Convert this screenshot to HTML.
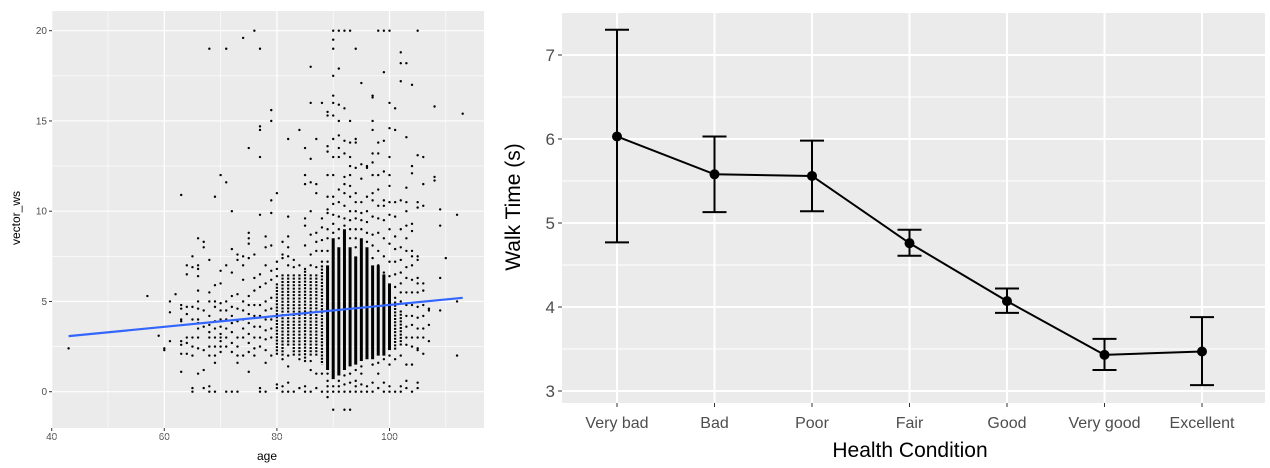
<!DOCTYPE html>
<html><head><meta charset="utf-8"><style>
body{margin:0;background:#fff;width:1270px;height:468px;overflow:hidden}
svg{display:block;font-family:"Liberation Sans",sans-serif}
</style></head><body>
<svg id="c" width="1270" height="468"></svg>
<script>
// ---------- left chart data ----------
const scatterAges=[43,57,59,60,61,62,63,64,65,66,67,68,69,70,71,72,73,74,75,76,77,78,79,80,81,82,83,84,85,86,87,88,89,90,91,92,93,94,95,96,97,98,99,100,101,102,103,104,105,106,107,108,109,110,112,113];
const scatterVals=["2.4","5.3","3.1","2.3 2.4","5.0 4.4 2.8","5.4","10.9 4.8 4.6 4.0 3.9 2.8 2.6 2.1 1.1","7.0 6.5 4.7 4.3 3.0 2.7 2.1","7.5 6.9 4.7 4.0 3.0 2.5 2.0 0.2 0.0","8.5 7.0 6.8 6.4 5.6 5.0 4.6 4.0 3.8 3.5 3.0 2.4 1.0","8.3 8.0 4.5 3.6 2.3 1.2 0.2","19.0 7.3 5.5 5.0 4.2 3.7 3.3 3.0 2.5 2.0 0.3 0.0","10.8 5.9 5.0 4.7 3.9 3.5 3.0 2.5 2.0 1.6 0.0","12.0 6.7 6.0 4.9 4.5 4.0 3.6 3.2 3.0 2.8 2.5 2.2","19.0 11.6 7.0 5.0 4.5 4.0 3.5 3.0 2.5 0.0","10.0 7.9 6.6 5.3 4.7 4.2 3.8 3.3 2.7 2.2 0.0","7.6 7.3 5.4 4.6 3.9 3.0 2.5 2.0 1.6 0.0","19.6 7.5 7.0 6.2 5.0 4.5 4.0 3.5 3.0 2.0","13.5 8.8 8.5 8.2 7.4 5.3 4.8 4.3 3.8 3.2 2.7 2.2 1.1","20.0 7.6 6.3 5.6 4.8 4.2 3.6 3.0 2.4 2.0","19.0 14.7 14.5 13.0 9.8 6.5 5.8 4.8 4.2 3.6 3.0 2.5 0.2 0.0","8.6 8.0 7.0 6.0 5.0 4.5 4.0 3.4 2.9 2.3 1.6 0.0","15.6 15.0 10.6 9.9 8.1 6.7 6.2 5.2 4.6 4.0 3.5 3.0 2.0","11.0 7.2 6.8 6.4 0.4 0.2","8.3 7.6 7.4 1.8 0.3 0.0","14.0 9.7 8.6 8.0 7.5 7.0 2.0 1.4 0.5 0.0","7.3 6.9 0.0","14.5 7.0 1.8 0.2","13.5 12.0 11.5 9.6 9.2 8.1 6.8 1.7 0.3 0.0","18.0 16.0 12.9 11.6 10.0 8.7 7.6 7.0 1.7 1.2 0.0","14.0 11.5 11.0 8.8 8.3 7.8 6.9 1.0 0.2","16.0 9.6 9.1 8.4 7.8 7.2 1.0 0.0","15.5 15.3 13.6 13.3 12.0 10.8 10.1 9.9 9.0 8.5 7.8 7.2 1.0 0.6 0.3 0.0 -0.3","20.0 19.5 19.0 17.5 16.4 16.0 15.3 14.0 13.0 12.0 10.8 10.4 9.8 9.3 8.8 0.3 0.0 -1.0","20.0 17.9 15.9 15.0 14.2 13.5 13.0 11.2 10.5 9.7 9.0 8.5 0.6 0.3 0.0","20.0 15.7 13.9 13.2 11.9 11.5 11.0 10.3 9.6 9.2 0.9 0.4 0.0 -1.0","20.0 15.0 13.8 13.0 12.5 12.0 11.4 10.8 10.0 9.5 9.0 8.5 1.0 0.5 0.0 -1.0","19.0 14.0 13.8 12.4 11.0 10.5 10.0 9.6 9.0 8.5 8.0 1.2 0.6 0.3 0.0","17.1 12.6 11.8 10.5 9.9 9.5 9.0 1.4 1.0 0.4 0.0","12.5 12.4 10.8 10.0 9.4 8.8 8.3 0.3 0.0","16.4 16.3 15.0 14.5 13.2 12.7 12.0 11.0 10.6 9.7 8.7 8.1 7.4 1.5 0.5 0.0","20.0 13.8 13.2 12.0 11.2 10.3 9.6 8.8 7.8 7.0 1.6 1.0 0.2","20.0 17.7 13.9 12.2 10.6 10.3 9.5 8.5 7.5 6.6 1.8 0.5 0.0","20.0 16.0 14.6 13.0 12.0 11.4 10.5 9.8 9.0 8.2 7.2 6.4 2.0 1.5 0.3 0.0","15.7 14.5 10.5 9.7 8.6 7.9 7.2 6.5 5.8 5.2 1.8 0.0","18.8 18.2 17.2 10.6 9.0 8.0 7.3 6.6 6.0 5.5 5.0 2.0 0.3 0.0","18.2 14.1 11.3 10.5 10.0 9.2 8.5 7.8 6.9 6.3 5.5 4.8 4.2 3.6 3.0 2.6 1.5 0.6 0.2","17.0 12.5 12.1 9.3 8.9 7.8 7.5 7.0 6.2 5.5 4.8 4.2 3.7 3.0 2.5 1.5 0.0","20.0 13.1 10.5 10.2 7.5 7.3 6.3 6.0 5.5 4.7 4.1 3.5 3.0 2.4 2.3 0.5 0.2","13.0 11.5 10.3 6.0 5.6 4.8 4.2 3.5 3.0 2.1","4.6 4.5 3.7 2.8","15.8 11.9 11.7","10.1 9.2 6.3 4.5","7.4","9.8 5.0 2.0","15.4"];
const denseAges=[80,81,82,83,84,85,86,87,88,89,90,91,92,93,94,95,96,97,98,99,100,101,102];
const denseLo=[2.0,2.0,2.5,2.0,2.0,1.8,2.0,2.0,1.5,1.2,0.7,0.9,1.2,1.4,1.5,1.7,1.8,1.8,2.0,2.0,2.3,2.3,2.5];
const denseHi=[6.0,6.5,6.5,6.5,6.5,6.7,6.5,6.5,7.0,7.0,8.5,8.0,9.0,8.0,7.5,8.5,8.0,7.0,7.0,6.5,6.0,5.0,4.5];
const fitAges=[43,113];
const fitVals=[3.08,5.2];
const leftXTicks=[40,60,80,100];
const leftYTicks=[0,5,10,15,20];
// ---------- right chart data ----------
const categories=["Very bad","Bad","Poor","Fair","Good","Very good","Excellent"];
const means=[6.03,5.58,5.56,4.76,4.07,3.43,3.47];
const lows=[4.77,5.13,5.14,4.61,3.93,3.25,3.07];
const highs=[7.30,6.03,5.98,4.92,4.22,3.62,3.88];
const rightYTicks=[3,4,5,6,7];

const NS="http://www.w3.org/2000/svg";
const svg=document.getElementById('c');
function mk(tag,attrs,parent,txt){const e=document.createElementNS(NS,tag);for(const k in attrs)e.setAttribute(k,attrs[k]);if(txt!==undefined)e.textContent=txt;(parent||svg).appendChild(e);return e;}

// ===== LEFT =====
const L={x0:52,x1:484,y0:11,y1:428};
const lx=a=>51.7+(a-40)*5.63;
const ly=v=>391.7-v*18.05;
let g=mk('g',{});


let r=mk('rect',{x:L.x0,y:L.y0,width:L.x1-L.x0,height:L.y1-L.y0,fill:'#ebebeb'},g);

for(let i=0;i<leftXTicks.length;i++){const t=leftXTicks[i];
  const mx=lx(t+10); if(mx<L.x1) mk('line',{x1:mx,x2:mx,y1:L.y0,y2:L.y1,stroke:'#fff','stroke-width':0.6},g);
  mk('line',{x1:lx(t),x2:lx(t),y1:L.y0,y2:L.y1,stroke:'#fff','stroke-width':1.2},g);
  mk('line',{x1:lx(t),x2:lx(t),y1:L.y1,y2:L.y1+3,stroke:'#333','stroke-width':1},g);
  const tx=mk('text',{x:lx(t),y:440,'font-size':10,fill:'#4d4d4d','text-anchor':'middle'},g,String(t));
  }
for(let i=0;i<leftYTicks.length;i++){const t=leftYTicks[i];
  mk('line',{x1:L.x0,x2:L.x1,y1:ly(t+2.5),y2:ly(t+2.5),stroke:'#fff','stroke-width':0.6},g);
  mk('line',{x1:L.x0,x2:L.x1,y1:ly(t),y2:ly(t),stroke:'#fff','stroke-width':1.2},g);
  mk('line',{x1:L.x0-3,x2:L.x0,y1:ly(t),y2:ly(t),stroke:'#333','stroke-width':1},g);
  const tx=mk('text',{x:L.x0-5,y:ly(t)+3.5,'font-size':10,fill:'#4d4d4d','text-anchor':'end'},g,String(t));
  }
mk('line',{x1:L.x0,x2:L.x1,y1:ly(-2.5),y2:ly(-2.5),stroke:'#fff','stroke-width':0.6},g);
for(let i=0;i<denseAges.length;i++){
  const a=denseAges[i];const solid=a>=89&&a<=100;
  const b=mk('line',{x1:lx(a),x2:lx(a),y1:ly(denseHi[i]),y2:ly(denseLo[i]),stroke:'#000','stroke-width':solid?3:2.2,'stroke-dasharray':solid?'none':'2 1.3'},g);
  }
for(let i=0;i<scatterAges.length;i++){
  scatterVals[i].split(' ').map(Number).forEach(v=>{
    const p=mk('circle',{cx:lx(scatterAges[i]),cy:ly(v),r:1.2,fill:'#000'},g);
    });}
const fl=mk('line',{x1:lx(fitAges[0]),y1:ly(fitVals[0]),x2:lx(fitAges[1]),y2:ly(fitVals[1]),stroke:'#3366FF','stroke-width':2.2},g);

let t1=mk('text',{x:267,y:460,'font-size':12,fill:'#000','text-anchor':'middle'},g,'age');

let t2=mk('text',{x:0,y:0,'font-size':12,fill:'#000','text-anchor':'middle',transform:'translate(20,218) rotate(-90)'},g,'vector_ws');


// ===== RIGHT =====
const R={x0:562,x1:1265,y0:13,y1:403};
const rx=i=>617+i*97.5;
const ry=v=>391-(v-3)*84;
let h=mk('g',{});


r=mk('rect',{x:R.x0,y:R.y0,width:R.x1-R.x0,height:R.y1-R.y0,fill:'#ebebeb'},h);

for(let i=0;i<rightYTicks.length;i++){const t=rightYTicks[i];
  if(i<rightYTicks.length-1) mk('line',{x1:R.x0,x2:R.x1,y1:ry(t+0.5),y2:ry(t+0.5),stroke:'#fff','stroke-width':1},h);
  mk('line',{x1:R.x0,x2:R.x1,y1:ry(t),y2:ry(t),stroke:'#fff','stroke-width':2},h);
  mk('line',{x1:R.x0-4,x2:R.x0,y1:ry(t),y2:ry(t),stroke:'#333','stroke-width':1},h);
  const tx=mk('text',{x:R.x0-7,y:ry(t)+6,'font-size':17,fill:'#4d4d4d','text-anchor':'end'},h,String(t));
  }
for(let i=0;i<categories.length;i++){
  mk('line',{x1:rx(i),x2:rx(i),y1:R.y0,y2:R.y1,stroke:'#fff','stroke-width':2},h);
  mk('line',{x1:rx(i),x2:rx(i),y1:R.y1,y2:R.y1+4,stroke:'#333','stroke-width':1},h);
  const tx=mk('text',{x:rx(i),y:428,'font-size':16,fill:'#4d4d4d','text-anchor':'middle'},h,categories[i]);
  }
const pts=means.map((m,i)=>rx(i)+','+ry(m)).join(' ');
const pl=mk('polyline',{points:pts,fill:'none',stroke:'#000','stroke-width':2},h);

for(let i=0;i<categories.length;i++){
  const eg=mk('g',{stroke:'#000','stroke-width':2},h);
  
  mk('line',{x1:rx(i),x2:rx(i),y1:ry(highs[i]),y2:ry(lows[i])},eg);
  mk('line',{x1:rx(i)-12,x2:rx(i)+12,y1:ry(highs[i]),y2:ry(highs[i])},eg);
  mk('line',{x1:rx(i)-12,x2:rx(i)+12,y1:ry(lows[i]),y2:ry(lows[i])},eg);
  const c=mk('circle',{cx:rx(i),cy:ry(means[i]),r:5,fill:'#000'},h);
  }
t1=mk('text',{x:910,y:457,'font-size':21,fill:'#000','text-anchor':'middle'},h,'Health Condition');

t2=mk('text',{x:0,y:0,'font-size':21,fill:'#000','text-anchor':'middle',transform:'translate(520,207) rotate(-90)'},h,'Walk Time (s)');

</script>
</body></html>
